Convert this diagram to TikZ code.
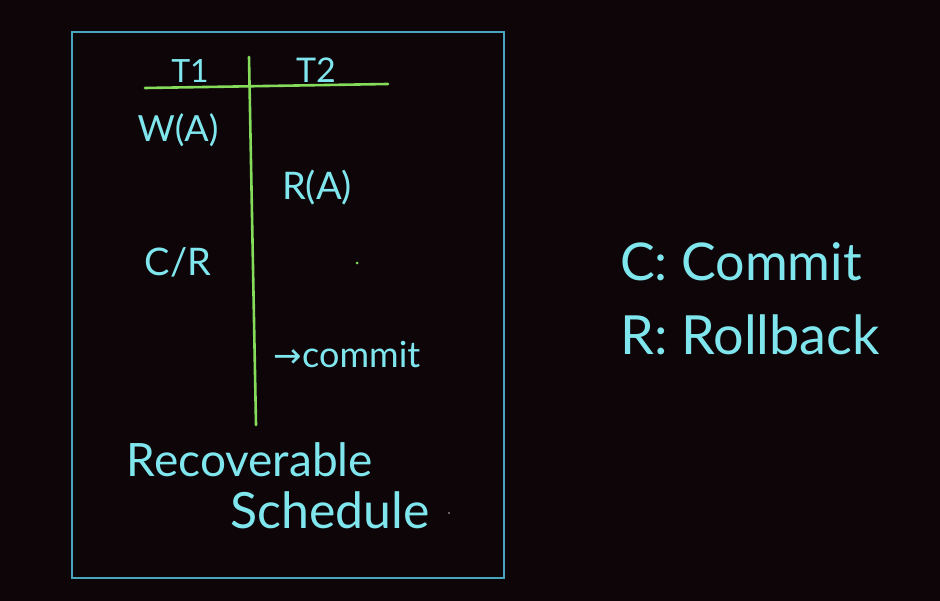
\documentclass[tikz,border=0pt]{standalone}
\usepackage{fontspec}
\setmainfont{Lato}
\newfontfamily\symfont{DejaVu Sans}
\definecolor{bg}{HTML}{0E0508}
\definecolor{ink}{HTML}{80E6EE}
\definecolor{frame}{HTML}{45A6BC}
\definecolor{rule}{HTML}{84DC5A}
\tikzset{
  hand/.style={text=ink, inner sep=0pt, anchor=center},
  gridline/.style={draw=rule, line width=2.6pt, line cap=round},
}
\begin{document}
\begin{tikzpicture}[x=1pt,y=-1pt]
\fill[bg] (0,0) rectangle (940,601);
\useasboundingbox (0,0) rectangle (940,601);
\draw[frame, line width=2.2pt] (72,32) rectangle (504,578);
% table rules
\coordinate (hl) at (145,88);
\coordinate (hr) at (388,84);
\coordinate (vt) at (249,57);
\coordinate (vb) at (256,425);
\draw[gridline] (hl) -- (hr);
\draw[gridline] (vt) -- (vb);
% headers
\node[hand, font=\fontsize{32}{32}\selectfont] (t1) at (190,71) {T1};
\node[hand, font=\fontsize{34}{34}\selectfont] (t2) at (316,70) {T2};
% entries
\node[hand, font=\fontsize{36}{36}\selectfont] (wa) at (178,130) {W(A)};
\node[hand, font=\fontsize{38}{38}\selectfont] (ra) at (317,188) {R(A)};
\node[hand, font=\fontsize{38}{38}\selectfont] (cr) at (178,262) {C/R};
\node[hand, font=\fontsize{36}{36}\selectfont] (cm) at (347,355) {{\symfont\fontsize{34}{34}\selectfont →}commit};
\fill[rule] (357,263) circle (1.5);
% caption
\node[hand, font=\fontsize{46}{46}\selectfont] (rec) at (250,460) {Recoverable};
\node[hand, font=\fontsize{50}{50}\selectfont] (sch) at (330,510) {Schedule};
\fill[gray] (449,513) circle (1.2);
% legend
\node[hand, anchor=west, font=\fontsize{52}{52}\selectfont] (lc) at (620,262) {C: Commit};
\node[hand, anchor=west, font=\fontsize{54}{54}\selectfont] (lr) at (620,335) {R: Rollback};
\end{tikzpicture}
\end{document}
